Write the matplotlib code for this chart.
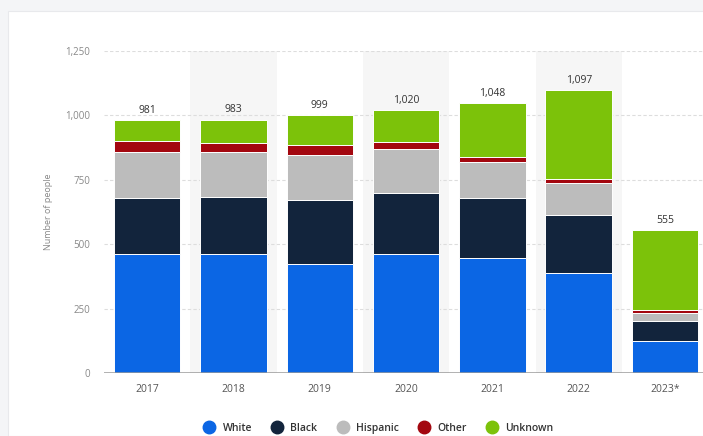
import matplotlib.pyplot as plt
from matplotlib.lines import Line2D
from matplotlib.patches import Rectangle
import numpy as np

plt.rcParams['font.family'] = ['Open Sans', 'DejaVu Sans']

# people per year, split by race / ethnicity
years = ['2017', '2018', '2019', '2020', '2021', '2022', '2023*']
white = [461, 461, 424, 461, 446, 390, 126]
black = [217, 223, 248, 237, 232, 224, 78]
hispanic = [181, 172, 172, 172, 140, 123, 31]
other = [43, 37, 42, 28, 22, 17, 10]
unknown = [79, 90, 113, 122, 208, 343, 310]

series = [
    ('White', white, '#0b66e4'),
    ('Black', black, '#12243c'),
    ('Hispanic', hispanic, '#bcbcbc'),
    ('Other', other, '#a3070f'),
    ('Unknown', unknown, '#7cc20a'),
]

W, H = 703, 436
fig = plt.figure(figsize=(W / 100, H / 100), dpi=100)
fig.patch.set_facecolor('#f4f5f7')
# white card behind the chart
fig.patches.append(Rectangle((8 / W, 0), 1, 1 - 11 / H, transform=fig.transFigure,
                             facecolor='white', edgecolor='#e8e9ec', lw=0.8, zorder=-10))

ax = fig.add_axes([104 / W, (H - 373.3) / H, (W - 104) / W, (373.3 - 50.7) / H])
ax.set_facecolor('none')
ax.set_zorder(1)

x = np.arange(len(years))
ax.set_xlim(-0.5, -0.5 + (W - 104) / 86.3)
ax.set_ylim(0, 1250)

# alternating column shading
for i in x[1::2]:
    ax.axvspan(i - 0.5, i + 0.5, color='#f6f6f6', zorder=0, lw=0)

for yv in [250, 500, 750, 1000, 1250]:
    ax.axhline(yv, color='#dddddd', lw=0.8, ls=(0, (3, 2)), zorder=1)

bottom = np.zeros(len(years))
for name, vals, col in series:
    ax.bar(x, vals, width=0.77, bottom=bottom, color=col, edgecolor='white',
           linewidth=0.7, zorder=2)
    bottom += np.array(vals)

for xi, tot in zip(x, bottom):
    ax.annotate(f'{int(tot):,}', (xi, tot), xytext=(0, 3), textcoords='offset points',
                ha='center', va='bottom', fontsize=7.5, color='#333333')

ax.axhline(0, color='#9a9a9a', lw=1.8, zorder=3)

ax.set_xticks(x)
ax.set_xticklabels(years, fontsize=7.5, color='#555555')
ax.set_yticks([0, 250, 500, 750, 1000, 1250])
ax.set_yticklabels(['0', '250', '500', '750', '1,000', '1,250'], fontsize=7, color='#888888')
ax.tick_params(axis='both', length=0)
ax.tick_params(axis='x', pad=8)
ax.tick_params(axis='y', pad=10)
for s in ax.spines.values():
    s.set_visible(False)

ax.set_ylabel('Number of people', fontsize=6.5, color='#888888', labelpad=9)

handles = [Line2D([], [], marker='o', ls='', color=c, markersize=9) for _, _, c in series]
fig.legend(handles, [n for n, _, _ in series], loc='center', ncol=5,
           bbox_to_anchor=(376 / W, 1 - 428 / H), frameon=False,
           prop={'size': 7.5, 'weight': 'semibold'}, labelcolor='#333333',
           handletextpad=0.3, columnspacing=1.4)

fig.savefig('out.png', dpi=100, facecolor=fig.get_facecolor())
